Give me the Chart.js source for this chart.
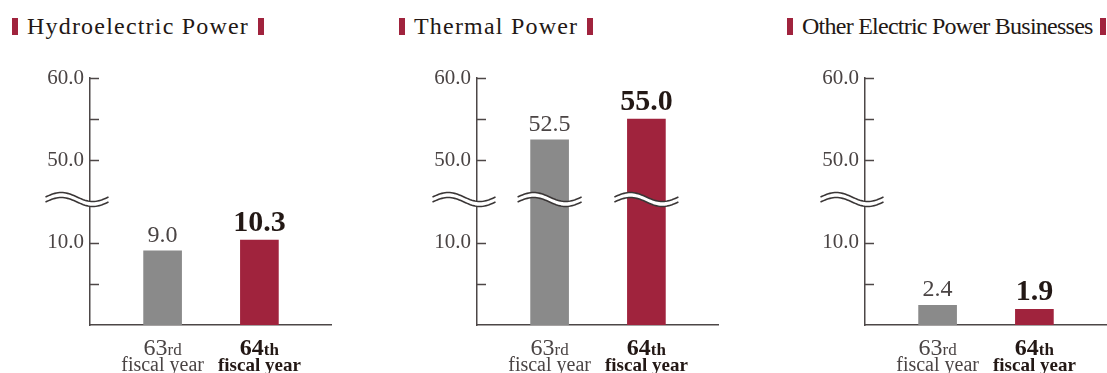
<!DOCTYPE html>
<html>
<head>
<meta charset="utf-8">
<script src="https://cdn.jsdelivr.net/npm/chart.js@4.4.0/dist/chart.umd.min.js"></script>
<style>
  body { margin: 0; background: #fff; width: 1107px; height: 373px; overflow: hidden; position: relative; }
  canvas { position: absolute; top: 0; }
  .ttl { position: absolute; top: 14px; font: 24px/24px 'Liberation Serif', serif; color: #231815; white-space: nowrap; }
  .ttl i { display: inline-block; width: 6px; height: 17px; background: #a0233d; vertical-align: -1px; margin: 0 9px; }
  .ttl i:first-child { margin-left: 0; }
</style>
</head>
<body>
<div class="ttl" style="left:12px; letter-spacing:1.2px"><i></i>Hydroelectric Power<i></i></div>
<div class="ttl" style="left:399px; letter-spacing:1.2px"><i></i>Thermal Power<i></i></div>
<div class="ttl" style="left:787px; letter-spacing:-0.75px"><i></i>Other Electric Power Businesses<i style="margin-left:7px"></i></div>
<canvas id="c0" width="302" height="373" style="left:30px"></canvas>
<canvas id="c1" width="302" height="373" style="left:417px"></canvas>
<canvas id="c2" width="302" height="373" style="left:805px"></canvas>
<script>
// data
const catNums = ['63', '64'];
const catSuffix = ['rd', 'th'];
const catLine2 = 'fiscal year';
const hydro = [9.0, 10.3];
const thermal = [52.5, 55.0];
const other = [2.4, 1.9];
const majorTicks = [10, 50, 60];
const minorTicks = [5, 55];
// the axis is cut between these two values
const breakFrom = 15;
const breakTo = 45;

const barColors = ['#8a8a8a', '#a0233d'];
const axisColor = '#4d4747';
const serif = "'Liberation Serif', serif";

Chart.defaults.font.family = serif;

function toDisplay(v) {
    return v <= breakFrom ? v : v - (breakTo - breakFrom);
}
function toReal(d) {
    return d <= breakFrom ? d : d + (breakTo - breakFrom);
}

function wave(ctx, cx, cy, w) {
    const A = 4.5, gap = 2.5, n = 40;
    const px = t => cx - w / 2 + t * w;
    const py = t => cy - A * Math.sin(2 * Math.PI * t);
    ctx.save();
    ctx.beginPath();
    for (let i = 0; i <= n; i++) ctx.lineTo(px(i / n), py(i / n) - gap);
    for (let i = n; i >= 0; i--) ctx.lineTo(px(i / n), py(i / n) + gap);
    ctx.closePath();
    ctx.fillStyle = '#fff';
    ctx.fill();
    ctx.strokeStyle = '#3a3636';
    ctx.lineWidth = 1.6;
    [-gap, gap].forEach(g => {
        ctx.beginPath();
        for (let i = 0; i <= n; i++) ctx.lineTo(px(i / n), py(i / n) + g);
        ctx.stroke();
    });
    ctx.restore();
}

const extras = {
    id: 'extras',
    afterDraw(chart) {
        const ctx = chart.ctx;
        const y = chart.scales.y;
        const area = chart.chartArea;
        const meta = chart.getDatasetMeta(0);
        const values = chart.data.datasets[0].realValues;

        // tick marks pointing inside
        ctx.save();
        ctx.strokeStyle = axisColor;
        ctx.lineWidth = 1.5;
        majorTicks.concat(minorTicks).forEach(v => {
            const py = Math.round(y.getPixelForValue(toDisplay(v))) + 0.5;
            ctx.beginPath();
            ctx.moveTo(area.left, py);
            ctx.lineTo(area.left + 9, py);
            ctx.stroke();
        });
        ctx.restore();

        // breaks
        const by = y.getPixelForValue(breakFrom) - 2;
        wave(ctx, area.left - 13, by, 63);
        meta.data.forEach((bar, i) => {
            if (values[i] > breakFrom) wave(ctx, bar.x, by, 64);
        });

        // value labels
        ctx.save();
        ctx.textAlign = 'center';
        ctx.textBaseline = 'alphabetic';
        meta.data.forEach((bar, i) => {
            if (i === 0) {
                ctx.font = '24px ' + serif;
                ctx.fillStyle = '#4a4444';
            } else {
                ctx.font = 'bold 30px ' + serif;
                ctx.fillStyle = '#231815';
            }
            ctx.fillText(values[i].toFixed(1), bar.x, bar.y - 9);
        });

        // category labels
        meta.data.forEach((bar, i) => {
            const w8 = i === 0 ? '' : 'bold ';
            ctx.fillStyle = i === 0 ? '#4a4444' : '#231815';
            ctx.font = w8 + '24px ' + serif;
            const w1 = ctx.measureText(catNums[i]).width;
            ctx.font = w8 + '17px ' + serif;
            const w2 = ctx.measureText(catSuffix[i]).width;
            const x0 = bar.x - (w1 + w2) / 2;
            ctx.textAlign = 'left';
            ctx.font = w8 + '24px ' + serif;
            ctx.fillText(catNums[i], x0, 355);
            ctx.font = w8 + '17px ' + serif;
            ctx.fillText(catSuffix[i], x0 + w1, 355);
            ctx.textAlign = 'center';
            ctx.font = w8 + (i === 0 ? '20px ' : '19px ') + serif;
            ctx.fillText(catLine2, bar.x, 371);
        });
        ctx.restore();
    }
};

function makeChart(id, values) {
    return new Chart(document.getElementById(id), {
        type: 'bar',
        data: {
            datasets: [{
                data: values.map((v, i) => ({ x: i + 0.75, y: toDisplay(v) })),
                realValues: values,
                backgroundColor: barColors,
                barThickness: 38
            }]
        },
        options: {
            responsive: false,
            animation: false,
            devicePixelRatio: 1,
            layout: { padding: { top: 78, bottom: 48, left: 0, right: 0 } },
            plugins: { legend: { display: false }, tooltip: { enabled: false } },
            scales: {
                x: {
                    type: 'linear',
                    offset: false,
                    min: 0,
                    max: 2.5,
                    ticks: { display: false },
                    grid: { display: false, drawTicks: false, offset: false },
                    border: { color: axisColor, width: 1.5 },
                    afterFit: s => { s.height = 0; }
                },
                y: {
                    min: 0,
                    max: 30,
                    ticks: {
                        stepSize: 5,
                        padding: 6,
                        color: '#4a4444',
                        font: { size: 21, family: serif },
                        callback: d => {
                            const v = toReal(d);
                            return majorTicks.includes(v) ? v.toFixed(1) : '';
                        }
                    },
                    grid: { display: false, drawTicks: false },
                    border: { color: axisColor, width: 1.5 },
                    afterFit: s => { s.width = 60; }
                }
            }
        },
        plugins: [extras]
    });
}

makeChart('c0', hydro);
makeChart('c1', thermal);
makeChart('c2', other);
</script>
</body>
</html>
